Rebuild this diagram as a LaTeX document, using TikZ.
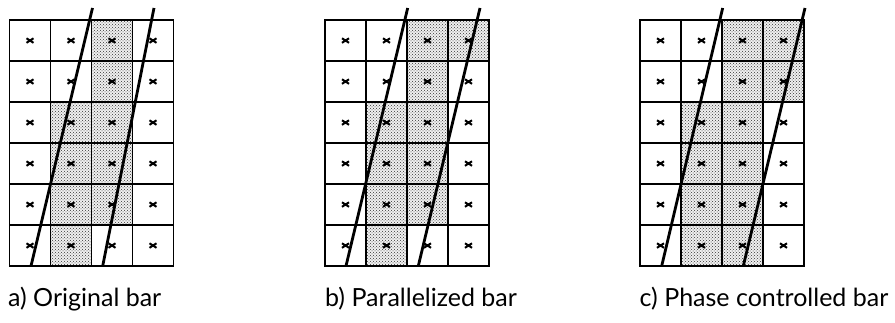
\documentclass[tikz,border=0pt]{standalone}
\usepackage{fontspec}
\setmainfont{Lato}
\usetikzlibrary{patterns}

\begin{document}
\begin{tikzpicture}[x=1pt, y=-1pt,
  cell/.style={draw, line width=1.2pt},
  dotted cell/.style={preaction={fill=black!6}, pattern=crosshatch dots, pattern color=black!80},
  xmark/.style={line width=2pt},
  barline/.style={line width=2.8pt},
  caption/.style={anchor=base west, inner sep=0pt, font=\fontsize{25}{30}\selectfont}
]
\useasboundingbox (0,0) rectangle (895,323);

% grids: left edge / shaded cells (col/row) / bar line ends (top, bottom)
\foreach \gx/\cells/\lt/\lb/\rt/\rb in {
  9.5/{2/0,2/1,1/2,2/2,1/3,2/3,1/4,2/4,1/5}/83/21.5/144.5/93.2,
  325/{2/0,3/0,2/1,1/2,2/2,1/3,2/3,1/4,2/4,1/5}/82.7/21/155/93.3,
  640/{2/0,3/0,2/1,3/1,1/2,2/2,1/3,2/3,1/4,2/4,1/5,2/5}/82.7/21.7/165/103.3}
{
  \begin{scope}[shift={(\gx,20)}]
    \foreach \c/\r in \cells
      \fill[dotted cell] (\c*41,\r*41) rectangle ++(41,41);
    \foreach \c in {0,...,3}
      \foreach \r in {0,...,5} {
        \draw[cell] (\c*41,\r*41) rectangle ++(41,41);
        \draw[xmark] (\c*41+17,\r*41+18.3) -- ++(7,4.5) ++(0,-4.5) -- ++(-7,4.5);
      }
    \coordinate (lefttop) at (\lt,-12);
    \coordinate (leftbot) at (\lb,246);
    \coordinate (righttop) at (\rt,-12);
    \coordinate (rightbot) at (\rb,246);
    \draw[barline] (lefttop) -- (leftbot);
    \draw[barline] (righttop) -- (rightbot);
  \end{scope}
}

\node[caption] (capa) at (8,306.5) {a) Original bar};
\node[caption] (capb) at (325,306.5) {b) Parallelized bar};
\node[caption] (capc) at (639.5,306.5) {c) Phase controlled bar};
\end{tikzpicture}
\end{document}
